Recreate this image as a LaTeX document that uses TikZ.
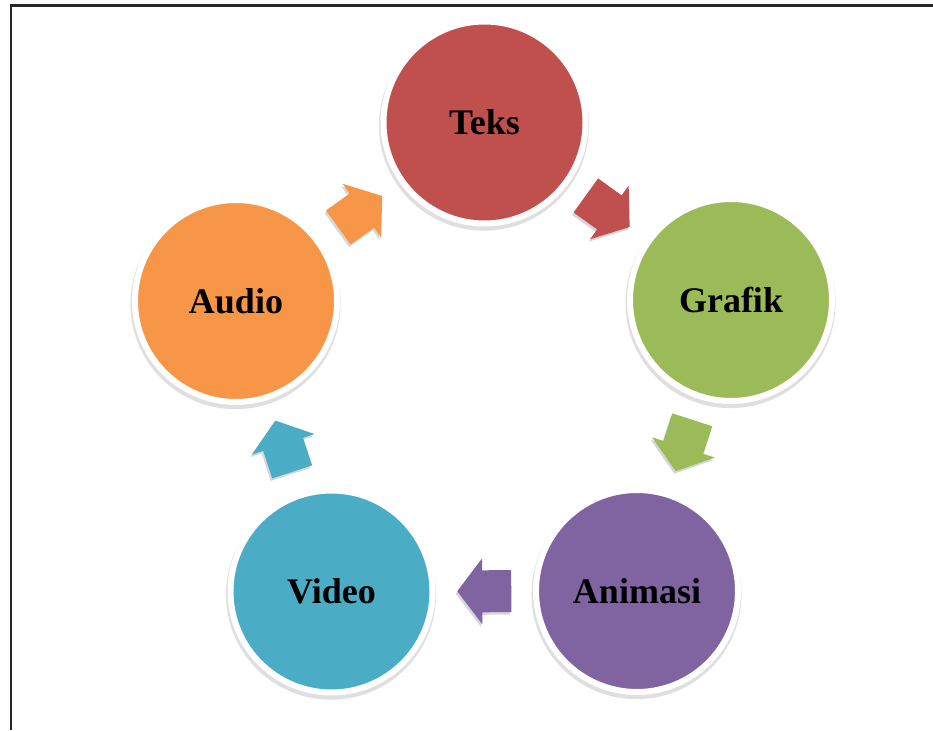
\documentclass[tikz,border=0pt]{standalone}
\usepackage{fontspec}
\setmainfont{Liberation Serif}
\usetikzlibrary{calc,shadows}
\definecolor{cteks}{HTML}{C0504D}
\definecolor{cgrafik}{HTML}{9BBB59}
\definecolor{canim}{HTML}{8064A2}
\definecolor{cvideo}{HTML}{4BACC6}
\definecolor{caudio}{HTML}{F79646}
\tikzset{
  ball/.style={circle, minimum size=202pt, inner sep=0pt, fill=#1, draw=white,
    line width=6pt, font=\fontsize{36}{42}\selectfont\bfseries, text=black,
    drop shadow={shadow xshift=-0.5pt, shadow yshift=-3pt, shadow scale=1.04,
      fill=black!35, opacity=0.35}},
  frameline/.style={line width=2.5pt, draw=black!85},
  arrshadow/.style={fill=black!35, opacity=0.45, transform canvas={xshift=-1.5pt, yshift=-2.5pt}},
  arrbody/.style={fill=#1},
}
\newcommand{\arrpoly}{($(tl)!21pt!90:(t)$) -- ($(hb)!21pt!90:(t)$) -- ($(hb)!33pt!90:(t)$)
    -- (t) -- ($(hb)!33pt!-90:(t)$) -- ($(hb)!21pt!-90:(t)$) -- ($(tl)!21pt!-90:(t)$) -- cycle}
\newcommand{\blockarr}[3]{%
  \coordinate (m) at ($(#1)!0.5!(#2)$);
  \coordinate (t) at ($(m)!27pt!(#2)$);
  \coordinate (hb) at ($(m)!2pt!(#2)$);
  \coordinate (tl) at ($(m)!27pt!(#1)$);
  \path[arrshadow] \arrpoly;
  \path[arrbody=#3] \arrpoly;
}
\begin{document}
\begin{tikzpicture}[x=1pt,y=-1pt]
\useasboundingbox (0,0) rectangle (933,730);
\fill[white] (0,0) rectangle (933,730);
\coordinate (ftl) at (11,5.5);
\coordinate (ftr) at (933,5.5);
\coordinate (fbl) at (11,730);
\draw[frameline] (ftr) -- (ftl) -- (fbl);

\node[ball=cteks] (teks) at (484.5,122.5) {Teks};
\node[ball=cgrafik] (grafik) at (731,300) {Grafik};
\node[ball=canim] (animasi) at (637,591) {Animasi};
\node[ball=cvideo] (video) at (331.5,591.5) {Video};
\node[ball=caudio] (audio) at (236,301) {Audio};

\blockarr{teks}{grafik}{cteks}
\blockarr{grafik}{animasi}{cgrafik}
\blockarr{animasi}{video}{canim}
\blockarr{video}{audio}{cvideo}
\blockarr{audio}{teks}{caudio}
\end{tikzpicture}
\end{document}
